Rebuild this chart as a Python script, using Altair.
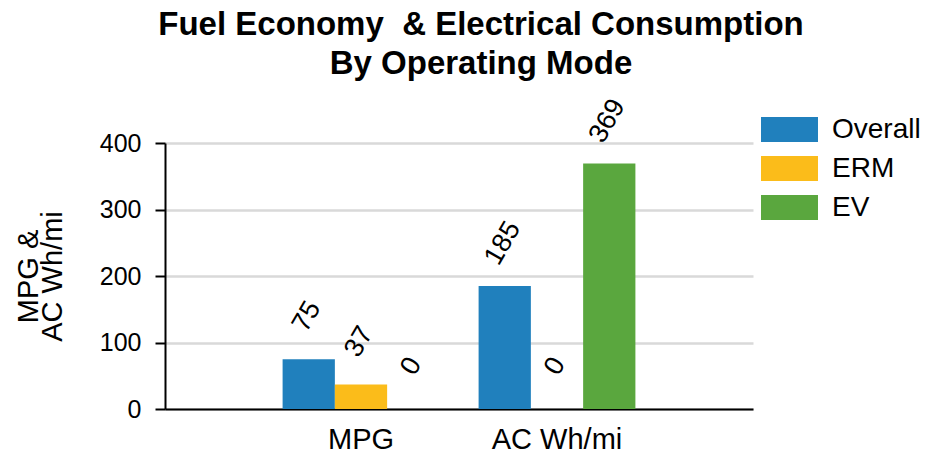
import altair as alt
import pandas as pd

metrics = ["MPG", "AC Wh/mi"]
modes = ["Overall", "ERM", "EV"]
overall = [75, 185]
erm = [37, 0]
ev = [0, 369]
colors = ["#2080BD", "#FBBC1A", "#5AA73E"]
y_ticks = [0, 100, 200, 300, 400]

rows = []
for i, m in enumerate(metrics):
    for mode, vals in zip(modes, [overall, erm, ev]):
        rows.append({"metric": m, "mode": mode, "value": vals[i]})
df = pd.DataFrame(rows)

FONT = "Liberation Sans"

x = alt.X(
    "metric:N",
    sort=metrics,
    scale=alt.Scale(paddingInner=0.2, paddingOuter=0.6),
    axis=alt.Axis(
        title=None, labelAngle=0, ticks=False, tickSize=0, labelFontSize=29,
        labelPadding=16, domainColor="black", domainWidth=2, labelColor="black",
        labelFont=FONT,
    ),
)
xo = alt.XOffset("mode:N", sort=modes, scale=alt.Scale(paddingInner=0, paddingOuter=0))
y = alt.Y(
    "value:Q",
    scale=alt.Scale(domain=[0, 400], nice=False),
    axis=alt.Axis(
        values=y_ticks,
        title=["MPG &", "AC Wh/mi"],
        titleFontSize=29, titleFontWeight="normal", titleColor="black", titleFont=FONT,
        titleLineHeight=24, titleAngle=270, titleAlign="center", titleBaseline="bottom",
        titleX=-122, titleY=133,
        labelFontSize=25, labelColor="black", labelFont=FONT, labelPadding=14,
        tickSize=10, tickColor="black", tickWidth=2,
        domainColor="black", domainWidth=2,
        gridColor="#d9d9d9", gridWidth=2.5,
    ),
)
color = alt.Color(
    "mode:N",
    sort=modes,
    scale=alt.Scale(domain=modes, range=colors),
    legend=alt.Legend(
        title=None, orient="none", legendX=610, legendY=-28,
        symbolType="M-2,-0.877H2V0.877H-2Z", symbolSize=812,
        symbolStrokeWidth=0, symbolOpacity=1,
        labelFontSize=28, labelFont=FONT, labelColor="black", labelOffset=28,
        rowPadding=10, padding=0,
    ),
)

base = alt.Chart(df).encode(x=x, xOffset=xo, y=y)
bars = base.mark_bar().encode(color=color)
labels = base.mark_text(
    angle=300, align="center", baseline="middle", dx=36, dy=-23,
    fontSize=27, color="black", font=FONT,
).encode(text="value:Q")

chart = (
    alt.layer(bars, labels)
    .properties(
        width=588,
        height=266,
        title=alt.TitleParams(
            text=["Fuel Economy \u00a0& Electrical Consumption", "By Operating Mode"],
            fontSize=33, fontWeight="bold", font=FONT, color="black",
            anchor="middle", dx=22, lineHeight=39, offset=13,
        ),
        autosize=alt.AutoSizeParams(type="none"),
        padding={"left": 157, "top": 135, "right": 169, "bottom": 46},
    )
    .configure_view(strokeWidth=0)
)

chart.save("out.html", embed_options={"renderer": "svg", "actions": False})
